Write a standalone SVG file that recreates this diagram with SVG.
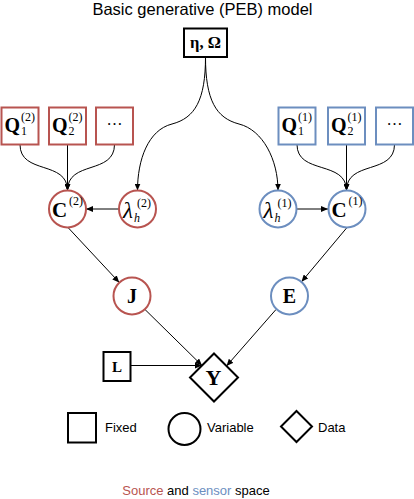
<svg xmlns="http://www.w3.org/2000/svg" width="414" height="499" viewBox="0 0 414 499">
<defs>
<style>
.red{fill:#fff;stroke:#b85450;stroke-width:2}
.blue{fill:#fff;stroke:#6c8ebf;stroke-width:2}
.blk{fill:#fff;stroke:#000;stroke-width:2}
.m{font-family:"Liberation Serif","Times New Roman",serif;fill:#000}
.b{font-weight:bold}
.i{font-style:italic}
.big{font-size:20px}
.sm{font-size:12px}
.s{font-family:"Liberation Sans",Arial,sans-serif;font-size:13px;fill:#000}
.c{fill:none;stroke:#000;stroke-width:1}
</style>
<marker id="arr" markerWidth="8" markerHeight="6" refX="7" refY="3" orient="auto" markerUnits="userSpaceOnUse"><path d="M0,0 L7,3 L0,6 z" fill="#000"/></marker>
</defs>
<rect width="414" height="499" fill="#fff"/>
<text x="202.5" y="14.5" text-anchor="middle" style="font-family:'Liberation Sans',Arial,sans-serif;font-size:16.5px;fill:#000">Basic generative (PEB) model</text>

<g id="connectors">
<path class="c" marker-end="url(#arr)" d="M205.5,57 C205.5,100 195,118 172,124 C148,130 137.5,160 137.5,190.5"/>
<path class="c" marker-end="url(#arr)" d="M205.5,57 C205.5,100 216,118 239,124 C263,130 278,160 278,190.5"/>
<path class="c" marker-end="url(#arr)" d="M20,144.5 C20,175 67.5,160 67.5,190.5"/>
<path class="c" marker-end="url(#arr)" d="M67.5,144.5 L67.5,190.5"/>
<path class="c" marker-end="url(#arr)" d="M114.5,144.5 C114.5,175 67.5,160 67.5,190.5"/>
<path class="c" marker-end="url(#arr)" d="M297,144.5 C297,175 346.5,160 346.5,190.5"/>
<path class="c" marker-end="url(#arr)" d="M346.5,144.5 L346.5,190.5"/>
<path class="c" marker-end="url(#arr)" d="M394.5,144.5 C394.5,175 346.5,160 346.5,190.5"/>
<path class="c" marker-end="url(#arr)" d="M119,209 L86,209"/>
<path class="c" marker-end="url(#arr)" d="M296.5,209 L328,209"/>
<path class="c" marker-end="url(#arr)" d="M68,227.5 L119.3,282.5"/>
<path class="c" marker-end="url(#arr)" d="M347,227.5 L301.5,281.8"/>
<path class="c" marker-end="url(#arr)" d="M145,309.5 L202,365.5"/>
<path class="c" marker-end="url(#arr)" d="M276,309.5 L226.5,366"/>
<path class="c" marker-end="url(#arr)" d="M130,365.5 L202,365.5"/>
</g>

<g id="node-eta">
<rect class="blk" x="184" y="28.5" width="43" height="28.5"/>
<text class="m b" x="205.5" y="48" text-anchor="middle" style="font-size:16.5px">η, Ω</text>
</g>

<g id="node-Q1-src">
<rect class="red" x="1.5" y="107.5" width="37" height="37"/>
<text class="m b big" x="4.5" y="132">Q</text>
<text class="m sm" x="21" y="121">(2)</text>
<text class="m sm" x="21" y="135">1</text>
</g>
<g id="node-Q2-src">
<rect class="red" x="49" y="107.5" width="37" height="37"/>
<text class="m b big" x="52" y="132">Q</text>
<text class="m sm" x="68.5" y="121">(2)</text>
<text class="m sm" x="68.5" y="135">2</text>
</g>
<g id="node-dots-src">
<rect class="red" x="96" y="107.5" width="37" height="37"/>
<text class="m" x="114.5" y="125" text-anchor="middle" style="font-size:16px">…</text>
</g>

<g id="node-Q1-sen">
<rect class="blue" x="278.5" y="107.5" width="37" height="37"/>
<text class="m b big" x="281.5" y="132">Q</text>
<text class="m sm" x="298" y="121">(1)</text>
<text class="m sm" x="298" y="135">1</text>
</g>
<g id="node-Q2-sen">
<rect class="blue" x="328" y="107.5" width="37" height="37"/>
<text class="m b big" x="331" y="132">Q</text>
<text class="m sm" x="347.5" y="121">(1)</text>
<text class="m sm" x="347.5" y="135">2</text>
</g>
<g id="node-dots-sen">
<rect class="blue" x="376" y="107.5" width="37" height="37"/>
<text class="m" x="394.5" y="125" text-anchor="middle" style="font-size:16px">…</text>
</g>

<g id="node-C-src">
<circle class="red" cx="67.5" cy="209" r="18.5"/>
<text class="m b" x="52" y="217" style="font-size:21px">C</text>
<text class="m sm" x="69" y="205">(2)</text>
</g>
<g id="node-lambda-src">
<circle class="red" cx="137.5" cy="209" r="18.5"/>
<text class="m i" x="123" y="218" style="font-size:23px">λ</text>
<text class="m sm" x="137" y="207">(2)</text>
<text class="m sm i" x="134" y="221.5">h</text>
</g>
<g id="node-lambda-sen">
<circle class="blue" cx="278" cy="209" r="18.5"/>
<text class="m i" x="263.5" y="218" style="font-size:23px">λ</text>
<text class="m sm" x="277.5" y="207">(1)</text>
<text class="m sm i" x="274.5" y="221.5">h</text>
</g>
<g id="node-C-sen">
<circle class="blue" cx="347" cy="209" r="18.5"/>
<text class="m b" x="331.5" y="217" style="font-size:21px">C</text>
<text class="m sm" x="348.5" y="205">(1)</text>
</g>

<g id="node-J">
<circle class="red" cx="132" cy="296" r="18.5"/>
<text class="m b big" x="132" y="303" text-anchor="middle">J</text>
</g>
<g id="node-E">
<circle class="blue" cx="289.5" cy="296" r="18.5"/>
<text class="m b big" x="289.5" y="303" text-anchor="middle">E</text>
</g>

<g id="node-L">
<rect class="blk" x="103.5" y="352" width="27" height="29"/>
<text class="m b" x="117" y="372" text-anchor="middle" style="font-size:15px">L</text>
</g>
<g id="node-Y">
<polygon class="blk" points="214,353.5 238,377.5 214,401.5 190,377.5"/>
<text class="m b" x="213.5" y="384.5" text-anchor="middle" style="font-size:22px">Y</text>
</g>

<g id="legend">
<rect class="blk" x="68" y="413" width="28" height="29.5"/>
<text class="s" x="105" y="432">Fixed</text>
<circle class="blk" cx="184.5" cy="429" r="16"/>
<text class="s" x="207" y="432">Variable</text>
<polygon class="blk" points="296.5,411 312,426.5 296.5,442 281,426.5"/>
<text class="s" x="318" y="432">Data</text>
</g>

<text class="s" x="196" y="494.5" text-anchor="middle"><tspan fill="#b85450">Source</tspan> and <tspan fill="#6c8ebf">sensor</tspan> space</text>
</svg>
